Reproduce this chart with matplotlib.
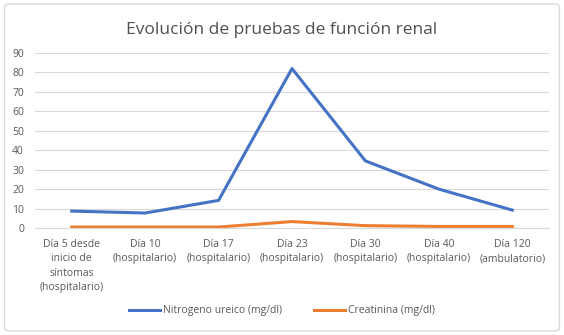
import matplotlib.pyplot as plt
from matplotlib.patches import FancyBboxPatch

categorias = ["Día 5 desde\ninicio de\nsíntomas\n(hospitalario)",
              "Día 10\n(hospitalario)", "Día 17\n(hospitalario)",
              "Día 23\n(hospitalario)", "Día 30\n(hospitalario)",
              "Día 40\n(hospitalario)", "Día 120\n(ambulatorio)"]
nitrogeno = [8.7, 7.7, 14.2, 82, 34.5, 20, 9.2]
creatinina = [0.5, 0.5, 0.5, 3.3, 1.2, 0.8, 0.8]

plt.rcParams['font.family'] = ['Open Sans', 'DejaVu Sans']

fig = plt.figure(figsize=(5.64, 3.35), dpi=100)
fig.patches.append(FancyBboxPatch((0.008, 0.012), 0.984, 0.976,
                                  boxstyle="round,pad=0,rounding_size=0.01",
                                  transform=fig.transFigure, fc="white",
                                  ec="#d9d9d9", lw=1, zorder=-5))
ax = fig.add_axes([35 / 564, 1 - 228 / 335, 514 / 564, 175 / 335])
x = range(len(categorias))
ax.plot(x, nitrogeno, color="#4472C4", lw=2.2, label="Nitrogeno ureico (mg/dl)",
        solid_joinstyle="round")
ax.plot(x, creatinina, color="#ED7D31", lw=2.2, label="Creatinina (mg/dl)",
        solid_joinstyle="round")

ax.set_xlim(-0.5, 6.5)
ax.set_ylim(0, 90)
ax.set_yticks(range(0, 91, 10))
ax.set_xticks(list(x))
ax.set_xticklabels(categorias, fontsize=7.5, color="#595959", linespacing=1.4)
ax.tick_params(axis="y", labelsize=7.5, labelcolor="#595959", length=0, pad=8)
ax.tick_params(axis="x", length=0, pad=8)
ax.grid(axis="y", color="#d9d9d9", lw=0.8)
ax.set_axisbelow(True)
for s in ["top", "right", "left"]:
    ax.spines[s].set_visible(False)
ax.spines["bottom"].set_color("#d9d9d9")
ax.patch.set_alpha(0)

fig.text(0.5, 0.91, "Evolución de pruebas de función renal", ha="center",
         va="center", fontsize=12.5, color="#505050")
fig.legend(loc="center", bbox_to_anchor=(0.5, 1 - 311 / 335), ncol=2,
           frameon=False, fontsize=7.5, labelcolor="#595959",
           handlelength=3, handletextpad=0.3, columnspacing=3)

fig.savefig("out.png", dpi=100)
